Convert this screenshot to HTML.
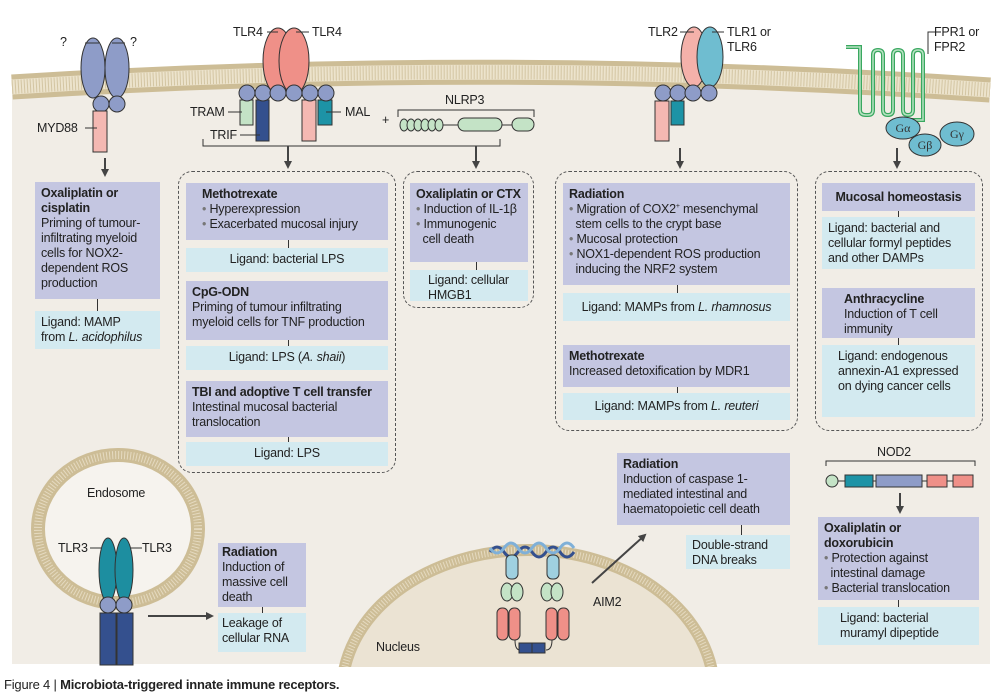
<!DOCTYPE html>
<html style="overflow:hidden;width:997px;height:696px"><head><meta charset="utf-8"><style>
html,body{margin:0;padding:0}
body{width:997px;height:696px;background:#fff;position:relative;overflow:hidden;font-family:"Liberation Sans",sans-serif;color:#222}
.b{position:absolute;font-size:12.5px;line-height:15px;letter-spacing:-0.2px;box-sizing:border-box;padding:4px 6px;overflow:hidden}
.p{background:#c4c6e1}.c{background:#d3eaf0}
.t{font-weight:bold}
.ctr{text-align:center}
.d{position:absolute;border:1.3px dashed #555;border-radius:14px;box-sizing:border-box}
.v{position:absolute;width:1px;background:#333}
.l{position:absolute;font-size:12.5px;line-height:15px;letter-spacing:-0.2px;white-space:nowrap}
.bul{color:#777}
</style></head><body>
<svg width="997" height="696" style="position:absolute;left:0;top:0">
<defs><marker id="a" markerWidth="8" markerHeight="8" refX="6" refY="4" orient="auto" markerUnits="userSpaceOnUse"><path d="M0,0 L8,4 L0,8 Z" fill="#444"/></marker></defs>
<path d="M12,87 Q500,56 990,90 L990,664 L12,664 Z" fill="#f1ede6"/>
<path d="M12,87 Q500,56 990,90" fill="none" stroke="#cdbd96" stroke-width="25"/>
<path d="M12,87 Q500,56 990,90" fill="none" stroke="#ece3cc" stroke-width="15"/>
<path d="M12,87 Q500,56 990,90" fill="none" stroke="#d3c5a2" stroke-width="14" stroke-dasharray="1,2"/>
<ellipse cx="118" cy="529" rx="80" ry="74" fill="#f6f3ee" stroke="#cdbd96" stroke-width="14"/>
<ellipse cx="118" cy="529" rx="80" ry="74" fill="none" stroke="#e5dac0" stroke-width="8" stroke-dasharray="1,2"/>
<clipPath id="nc"><rect x="0" y="0" width="997" height="667"/></clipPath>
<g clip-path="url(#nc)">
<ellipse cx="528" cy="692" rx="186" ry="142" fill="#ebe3d3" stroke="#cdbd96" stroke-width="12"/>
<ellipse cx="528" cy="692" rx="186" ry="142" fill="none" stroke="#e5dac0" stroke-width="7" stroke-dasharray="1,2"/>
</g>
<g stroke="#333" stroke-width="1">
<ellipse cx="93" cy="68" rx="12" ry="30" fill="#8e9cc8"/><ellipse cx="117" cy="68" rx="12" ry="30" fill="#8e9cc8"/>
<circle cx="101" cy="104" r="8" fill="#8e9cc8"/><circle cx="117" cy="104" r="8" fill="#8e9cc8"/>
<rect x="93" y="111" width="14" height="41" fill="#f4b8b2"/>
<ellipse cx="278" cy="61" rx="15" ry="33" fill="#ef9088"/><ellipse cx="294" cy="61" rx="15" ry="33" fill="#ef9088"/>
<rect x="240" y="100" width="13" height="25" fill="#c4e3c6"/>
<rect x="256" y="100" width="13" height="41" fill="#34508e"/>
<rect x="302" y="100" width="14" height="41" fill="#f4b8b2"/>
<rect x="318" y="100" width="14" height="25" fill="#1d93a6"/>
<circle cx="247" cy="93" r="8" fill="#8e9cc8"/><circle cx="263" cy="93" r="8" fill="#8e9cc8"/><circle cx="278" cy="93" r="8" fill="#8e9cc8"/><circle cx="294" cy="93" r="8" fill="#8e9cc8"/><circle cx="310" cy="93" r="8" fill="#8e9cc8"/><circle cx="326" cy="93" r="8" fill="#8e9cc8"/>
<ellipse cx="404" cy="125" rx="4" ry="6" fill="#c4e3c6"/><ellipse cx="411" cy="125" rx="4" ry="6" fill="#c4e3c6"/><ellipse cx="418" cy="125" rx="4" ry="6" fill="#c4e3c6"/><ellipse cx="425" cy="125" rx="4" ry="6" fill="#c4e3c6"/><ellipse cx="432" cy="125" rx="4" ry="6" fill="#c4e3c6"/><ellipse cx="439" cy="125" rx="4" ry="6" fill="#c4e3c6"/>
<line x1="443" y1="125" x2="458" y2="125"/>
<rect x="458" y="118" width="44" height="13" rx="6.5" fill="#c4e3c6"/>
<line x1="502" y1="125" x2="512" y2="125"/>
<rect x="512" y="118" width="22" height="13" rx="6.5" fill="#c4e3c6"/>
<ellipse cx="694" cy="57" rx="13" ry="30" fill="#f4b1aa"/><ellipse cx="710" cy="57" rx="13" ry="30" fill="#6fbdd0"/>
<rect x="655" y="101" width="14" height="40" fill="#f4b8b2"/>
<rect x="671" y="101" width="13" height="24" fill="#1d93a6"/>
<circle cx="663" cy="93" r="8" fill="#8e9cc8"/><circle cx="678" cy="93" r="8" fill="#8e9cc8"/><circle cx="693" cy="93" r="8" fill="#8e9cc8"/><circle cx="709" cy="93" r="8" fill="#8e9cc8"/>
</g>
<path d="M846,47 H860 V110 Q860,115 866,115 H868 Q873,115 873,110 V55 Q873,50 878,50 Q883,50 883,55 V110 Q883,115 888,115 Q893,115 893,110 V55 Q893,50 898,50 Q903,50 903,55 V110 Q903,115 908,115 Q913,115 913,110 V55 Q913,50 918,50 Q923,50 923,55 V120 H895" fill="none" stroke="#3aa860" stroke-width="4"/>
<path d="M846,47 H860 V110 Q860,115 866,115 H868 Q873,115 873,110 V55 Q873,50 878,50 Q883,50 883,55 V110 Q883,115 888,115 Q893,115 893,110 V55 Q893,50 898,50 Q903,50 903,55 V110 Q903,115 908,115 Q913,115 913,110 V55 Q913,50 918,50 Q923,50 923,55 V120 H895" fill="none" stroke="#b8e3c3" stroke-width="1.5"/>
<g stroke="#333" stroke-width="1" fill="#6fbdd0">
<ellipse cx="903" cy="128" rx="17" ry="11"/><ellipse cx="957" cy="134" rx="17" ry="12"/><ellipse cx="925" cy="145" rx="16" ry="11"/>
</g>
<text x="903" y="132" font-family="Liberation Serif" font-size="12" text-anchor="middle" fill="#333">Gα</text>
<text x="925" y="149" font-family="Liberation Serif" font-size="12" text-anchor="middle" fill="#333">Gβ</text>
<text x="957" y="138" font-family="Liberation Serif" font-size="12" text-anchor="middle" fill="#333">Gγ</text>
<g stroke="#333" stroke-width="1" fill="none">
<line x1="85" y1="43" x2="99" y2="43"/><line x1="112" y1="43" x2="125" y2="43"/>
<line x1="85" y1="128" x2="97" y2="128"/>
<line x1="267" y1="32" x2="278" y2="32"/><line x1="296" y1="32" x2="309" y2="32"/>
<line x1="228" y1="112" x2="242" y2="112"/><line x1="240" y1="135" x2="260" y2="135"/><line x1="326" y1="112" x2="341" y2="112"/>
<line x1="680" y1="32" x2="694" y2="32"/><line x1="712" y1="32" x2="724" y2="32"/>
<path d="M935,32 H928 V54"/>
<path d="M203,139 V146 H500 V139"/>
<path d="M398,117 V110 H534 V117"/>
<line x1="90" y1="548" x2="101" y2="548"/><line x1="131" y1="548" x2="142" y2="548"/>
<path d="M826,466 V461 H975 V466"/>
</g>
<g stroke="#444" stroke-width="2" marker-end="url(#a)">
<line x1="105" y1="158" x2="105" y2="175"/>
<line x1="288" y1="146" x2="288" y2="167"/>
<line x1="476" y1="146" x2="476" y2="167"/>
<line x1="680" y1="148" x2="680" y2="167"/>
<line x1="897" y1="148" x2="897" y2="167"/>
<line x1="900" y1="493" x2="900" y2="512"/>
<line x1="148" y1="616" x2="212" y2="616"/>
<line x1="592" y1="583" x2="645" y2="535"/>
</g>
<g stroke="#333" stroke-width="1">
<line x1="832" y1="481" x2="968" y2="481"/>
<circle cx="832" cy="481" r="6" fill="#c4e3c6"/>
<rect x="845" y="475" width="28" height="12" fill="#1d93a6"/>
<rect x="876" y="475" width="46" height="12" fill="#8e9cc8"/>
<rect x="927" y="475" width="20" height="12" fill="#ef9088"/>
<rect x="953" y="475" width="20" height="12" fill="#ef9088"/>
</g>
<g stroke="#333" stroke-width="1">
<ellipse cx="108" cy="570" rx="9" ry="32" fill="#1d8ea0"/><ellipse cx="124" cy="570" rx="9" ry="32" fill="#1d8ea0"/>
<circle cx="108" cy="605" r="8" fill="#8e9cc8"/><circle cx="124" cy="605" r="8" fill="#8e9cc8"/>
<rect x="100" y="613" width="16" height="52" fill="#34508e"/><rect x="117" y="613" width="16" height="52" fill="#34508e"/>
</g>
<path d="M490,552 q7,-10 14,0 t14,0 t14,0 t14,0 t14,0 t14,0" fill="none" stroke="#34508e" stroke-width="3"/>
<path d="M490,548 q7,10 14,0 t14,0 t14,0 t14,0 t14,0 t14,0" fill="none" stroke="#7fb0d8" stroke-width="3"/>
<g stroke="#333" stroke-width="1">
<rect x="506" y="555" width="12" height="24" rx="5" fill="#9fd0e0"/><rect x="547" y="555" width="12" height="24" rx="5" fill="#9fd0e0"/>
<ellipse cx="507" cy="592" rx="6" ry="9" fill="#c4e3c6"/><ellipse cx="517" cy="592" rx="6" ry="9" fill="#c4e3c6"/>
<ellipse cx="547" cy="592" rx="6" ry="9" fill="#c4e3c6"/><ellipse cx="557" cy="592" rx="6" ry="9" fill="#c4e3c6"/>
<rect x="497" y="608" width="11" height="32" rx="5" fill="#ef9088"/><rect x="509" y="608" width="11" height="32" rx="5" fill="#ef9088"/>
<rect x="546" y="608" width="11" height="32" rx="5" fill="#ef9088"/><rect x="558" y="608" width="11" height="32" rx="5" fill="#ef9088"/>
<path d="M515,640 Q515,650 520,650 M552,640 Q552,650 546,650" fill="none"/>
<rect x="519" y="643" width="13" height="10" fill="#34508e"/><rect x="532" y="643" width="13" height="10" fill="#34508e"/>
</g>
</svg>

<div class="l" style="left:60px;top:35px">?</div><div class="l" style="left:130px;top:35px">?</div>
<div class="l" style="left:37px;top:121px">MYD88</div>
<div class="l" style="left:233px;top:25px">TLR4</div><div class="l" style="left:312px;top:25px">TLR4</div>
<div class="l" style="left:190px;top:105px">TRAM</div><div class="l" style="left:210px;top:128px">TRIF</div>
<div class="l" style="left:345px;top:105px">MAL</div><div class="l" style="left:382px;top:113px">+</div>
<div class="l" style="left:445px;top:93px">NLRP3</div>
<div class="l" style="left:648px;top:25px">TLR2</div><div class="l" style="left:727px;top:25px">TLR1 or<br>TLR6</div>
<div class="l" style="left:934px;top:25px">FPR1 or<br>FPR2</div>
<div class="l" style="left:877px;top:445px">NOD2</div>
<div class="l" style="left:87px;top:486px">Endosome</div>
<div class="l" style="left:58px;top:541px">TLR3</div><div class="l" style="left:142px;top:541px">TLR3</div>
<div class="l" style="left:593px;top:595px">AIM2</div>
<div class="l" style="left:376px;top:640px">Nucleus</div>

<div class="b p" style="left:35px;top:182px;width:125px;height:117px"><span class="t">Oxaliplatin or cisplatin</span><br>Priming of tumour-infiltrating myeloid cells for NOX2-dependent ROS production</div>
<div class="v" style="left:97px;top:299px;height:12px"></div>
<div class="b c" style="left:35px;top:311px;width:125px;height:38px">Ligand: MAMP<br>from <i>L. acidophilus</i></div>

<div class="d" style="left:178px;top:171px;width:218px;height:302px"></div>
<div class="b p" style="left:186px;top:183px;width:202px;height:57px;padding-left:16px"><span class="t">Methotrexate</span><br><span class="bul">•</span> Hyperexpression<br><span class="bul">•</span> Exacerbated mucosal injury</div>
<div class="v" style="left:288px;top:240px;height:8px"></div>
<div class="b c ctr" style="left:186px;top:248px;width:202px;height:24px">Ligand: bacterial LPS</div>
<div class="b p" style="left:186px;top:281px;width:202px;height:59px"><span class="t">CpG-ODN</span><br>Priming of tumour infiltrating myeloid cells for TNF production</div>
<div class="v" style="left:288px;top:340px;height:6px"></div>
<div class="b c ctr" style="left:186px;top:346px;width:202px;height:24px">Ligand: LPS (<i>A. shaii</i>)</div>
<div class="b p" style="left:186px;top:381px;width:202px;height:56px"><span class="t">TBI and adoptive T cell transfer</span><br>Intestinal mucosal bacterial translocation</div>
<div class="v" style="left:288px;top:437px;height:5px"></div>
<div class="b c ctr" style="left:186px;top:442px;width:202px;height:24px">Ligand: LPS</div>

<div class="d" style="left:403px;top:171px;width:131px;height:137px"></div>
<div class="b p" style="left:410px;top:183px;width:118px;height:79px;padding-left:6px"><span class="t">Oxaliplatin or CTX</span><br><span class="bul">•</span> Induction of IL-1β<br><span class="bul">•</span> Immunogenic<br>&nbsp;&nbsp;cell death</div>
<div class="v" style="left:476px;top:262px;height:8px"></div>
<div class="b c" style="left:410px;top:270px;width:118px;height:31px;padding:3px 18px">Ligand: cellular HMGB1</div>

<div class="d" style="left:555px;top:171px;width:243px;height:260px"></div>
<div class="b p" style="left:563px;top:183px;width:227px;height:102px"><span class="t">Radiation</span><br><span class="bul">•</span> Migration of COX2<sup style="font-size:7px;line-height:0">+</sup> mesenchymal<br>&nbsp;&nbsp;stem cells to the crypt base<br><span class="bul">•</span> Mucosal protection<br><span class="bul">•</span> NOX1-dependent ROS production<br>&nbsp;&nbsp;inducing the NRF2 system</div>
<div class="v" style="left:677px;top:285px;height:8px"></div>
<div class="b c ctr" style="left:563px;top:293px;width:227px;height:28px;padding-top:7px">Ligand: MAMPs from <i>L. rhamnosus</i></div>
<div class="b p" style="left:563px;top:345px;width:227px;height:42px"><span class="t">Methotrexate</span><br>Increased detoxification by MDR1</div>
<div class="v" style="left:677px;top:387px;height:6px"></div>
<div class="b c ctr" style="left:563px;top:393px;width:227px;height:27px;padding-top:6px">Ligand: MAMPs from <i>L. reuteri</i></div>

<div class="d" style="left:815px;top:171px;width:168px;height:260px"></div>
<div class="b p ctr" style="left:822px;top:183px;width:153px;height:28px;padding-top:7px"><span class="t">Mucosal homeostasis</span></div>
<div class="v" style="left:898px;top:211px;height:6px"></div>
<div class="b c" style="left:822px;top:217px;width:153px;height:52px">Ligand: bacterial and cellular formyl peptides and other DAMPs</div>
<div class="b p" style="left:822px;top:288px;width:153px;height:50px;padding-left:22px"><span class="t">Anthracycline</span><br>Induction of T cell immunity</div>
<div class="v" style="left:898px;top:338px;height:7px"></div>
<div class="b c" style="left:822px;top:345px;width:153px;height:72px;padding-left:16px">Ligand: endogenous annexin-A1 expressed on dying cancer cells</div>

<div class="b p" style="left:617px;top:453px;width:173px;height:72px"><span class="t">Radiation</span><br>Induction of caspase 1-mediated intestinal and haematopoietic cell death</div>
<div class="v" style="left:741px;top:525px;height:10px"></div>
<div class="b c" style="left:686px;top:535px;width:104px;height:34px;padding:3px 6px">Double-strand DNA breaks</div>

<div class="b p" style="left:818px;top:517px;width:161px;height:83px"><span class="t">Oxaliplatin or doxorubicin</span><br><span class="bul">•</span> Protection against<br>&nbsp;&nbsp;intestinal damage<br><span class="bul">•</span> Bacterial translocation</div>
<div class="v" style="left:898px;top:600px;height:7px"></div>
<div class="b c" style="left:818px;top:607px;width:161px;height:38px;padding-left:22px">Ligand: bacterial muramyl dipeptide</div>

<div class="b p" style="left:218px;top:543px;width:88px;height:64px;padding:2px 4px"><span class="t">Radiation</span><br>Induction of massive cell death</div>
<div class="v" style="left:262px;top:607px;height:6px"></div>
<div class="b c" style="left:218px;top:613px;width:88px;height:39px;padding:3px 4px">Leakage of cellular RNA</div>

<div class="l" style="left:4px;top:677px;font-size:13px;line-height:15px">Figure 4 | <b>Microbiota-triggered innate immune receptors.</b></div>
</body></html>
